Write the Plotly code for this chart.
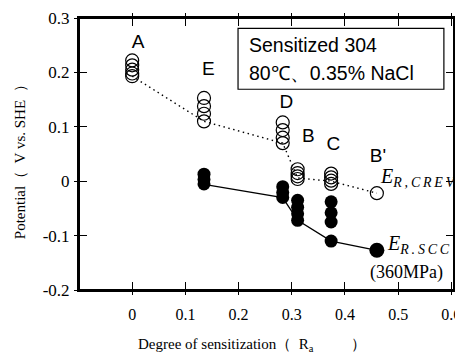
import plotly.graph_objects as go

# Open circles: E_R,CREV  (groups A, E, D, B, C, B')
crev_x = [0.0, 0.0, 0.0, 0.0, 0.0,
          0.135, 0.135, 0.135, 0.135,
          0.283, 0.283, 0.283, 0.283,
          0.311, 0.311, 0.311, 0.311,
          0.374, 0.374, 0.374, 0.374,
          0.46]
crev_y = [0.222, 0.213, 0.205, 0.198, 0.193,
          0.153, 0.138, 0.124, 0.110,
          0.108, 0.094, 0.080, 0.070,
          0.022, 0.015, 0.009, 0.004,
          0.014, 0.007, 0.001, -0.005,
          -0.022]
crev_line_x = [0.0, 0.135, 0.283, 0.311, 0.374, 0.46]
crev_line_y = [0.193, 0.110, 0.070, 0.006, 0.0, -0.022]

# Filled circles: E_R,SCC
scc_x = [0.135, 0.135, 0.135,
         0.283, 0.283, 0.283,
         0.311, 0.311, 0.311, 0.311,
         0.374, 0.374, 0.374, 0.374]
scc_y = [0.013, 0.003, -0.005,
         -0.010, -0.021, -0.030,
         -0.035, -0.048, -0.060, -0.072,
         -0.038, -0.058, -0.075, -0.110]
scc_line_x = [0.135, 0.283, 0.311, 0.374, 0.46]
scc_line_y = [-0.006, -0.030, -0.072, -0.110, -0.127]
scc_end_x = [0.46]
scc_end_y = [-0.127]

group_labels = ["A", "E", "D", "B", "C", "B'"]
group_label_x = [0.011, 0.143, 0.29, 0.331, 0.378, 0.462]
group_label_y = [0.254, 0.204, 0.143, 0.081, 0.066, 0.044]

x_range = [-0.1, 0.605]
y_range = [-0.2, 0.3]
x_ticks = [0, 0.1, 0.2, 0.3, 0.4, 0.5, 0.6]
x_ticktext = ["0", "0.1", "0.2", "0.3", "0.4", "0.5", "0.6"]
y_ticks = [0.3, 0.2, 0.1, 0, -0.1, -0.2]
y_ticktext = ["0.3", "0.2", "0.1", "0", "-0.1", "-0.2"]

serif = "Liberation Serif, Times New Roman, serif"
sans = "Liberation Sans, Arial, sans-serif"
ts = "\u2009"
nb = "\u00a0"

fig = go.Figure()
fig.add_trace(go.Scatter(x=crev_line_x, y=crev_line_y, mode="lines",
                         line=dict(color="black", width=1.4, dash="1.5px,3.5px"),
                         hoverinfo="skip", showlegend=False))
fig.add_trace(go.Scatter(x=scc_line_x, y=scc_line_y, mode="lines",
                         line=dict(color="black", width=1.3),
                         hoverinfo="skip", showlegend=False))
fig.add_trace(go.Scatter(x=crev_x, y=crev_y, mode="markers",
                         marker=dict(symbol="circle-open", size=13,
                                     color="black", line=dict(width=1.2)),
                         showlegend=False))
fig.add_trace(go.Scatter(x=scc_x, y=scc_y, mode="markers",
                         marker=dict(symbol="circle", size=13, color="black"),
                         showlegend=False))
fig.add_trace(go.Scatter(x=scc_end_x, y=scc_end_y, mode="markers",
                         marker=dict(symbol="circle", size=15, color="black"),
                         showlegend=False))
fig.add_trace(go.Scatter(x=group_label_x, y=group_label_y, mode="text",
                         text=group_labels,
                         textfont=dict(family=sans, size=19, color="black"),
                         showlegend=False))
# invisible trace on the overlay axes (outer tick halves)
fig.add_trace(go.Scatter(x=[x_range[0]], y=[y_range[0]], xaxis="x2", yaxis="y2",
                         mode="markers", marker=dict(opacity=0),
                         hoverinfo="skip", showlegend=False))

annotations = [
    dict(x=0.463, y=0.006, xref="x", yref="y", xanchor="left", yanchor="middle",
         text="<i>E</i><sub><i>" + ts.join("R,CREV") + "</i></sub>",
         showarrow=False, font=dict(family=serif, size=20, color="black")),
    dict(x=0.476, y=-0.116, xref="x", yref="y", xanchor="left", yanchor="middle",
         text="<i>E</i><sub><i>" + ts.join("R.SCC") + "</i></sub>",
         showarrow=False, font=dict(family=serif, size=20, color="black")),
    dict(x=0.515, y=-0.167, xref="x", yref="y", xanchor="center", yanchor="middle",
         text="(360MPa)", showarrow=False,
         font=dict(family=serif, size=18, color="black")),
    dict(x=0.216, y=0.251, xref="x", yref="y", xanchor="left", yanchor="middle",
         text="Sensitized 304", showarrow=False,
         font=dict(family=sans, size=19.5, color="black")),
    dict(x=0.216, y=0.198, xref="x", yref="y", xanchor="left", yanchor="middle",
         text="80℃、0.35% NaCl", showarrow=False,
         font=dict(family=sans, size=19.5, color="black")),
    dict(x=-0.157, y=0.485, xref="paper", yref="paper", xanchor="center",
         yanchor="middle",
         text="Potential（" + nb * 2 + "V vs. SHE" + nb * 2 + "）",
         showarrow=False, textangle=-90,
         font=dict(family=serif, size=15, color="black")),
    dict(x=0.461, y=-0.202, xref="paper", yref="paper", xanchor="center",
         yanchor="middle",
         text="Degree of sensitization（" + nb * 2 + "R<sub>a</sub>" + nb * 10 + "）",
         showarrow=False, font=dict(family=serif, size=15, color="black")),
]

fig.update_layout(
    width=455, height=347,
    margin=dict(l=71, r=9, t=10, b=65),
    paper_bgcolor="white", plot_bgcolor="white",
    annotations=annotations,
    shapes=[
        dict(type="rect", xref="x", yref="y", x0=0.199, x1=0.586,
             y0=0.169, y1=0.281, line=dict(color="black", width=1.2)),
        dict(type="rect", xref="paper", yref="paper", x0=0, x1=1, y0=0, y1=1,
             line=dict(color="black", width=2), layer="above"),
    ],
    xaxis=dict(range=x_range, tickvals=x_ticks, ticktext=x_ticktext,
               ticks="inside", ticklen=8, tickwidth=1.2, tickcolor="black",
               showline=True, linecolor="black", linewidth=2, mirror="ticks",
               showgrid=False, zeroline=False, automargin=False,
               ticklabelstandoff=9, ticklabeloverflow="allow",
               tickfont=dict(family=serif, size=16, color="black")),
    yaxis=dict(range=y_range, tickvals=y_ticks, ticktext=y_ticktext,
               ticks="inside", ticklen=8, tickwidth=1.2, tickcolor="black",
               showline=True, linecolor="black", linewidth=2, mirror="ticks",
               showgrid=False, zeroline=False, automargin=False,
               ticklabelstandoff=4,
               tickfont=dict(family=serif, size=17, color="black")),
    xaxis2=dict(range=x_range, tickvals=x_ticks, overlaying="x", anchor="y2",
                ticks="outside", ticklen=4, tickwidth=1.2, tickcolor="black",
                showticklabels=False, showline=False, mirror="ticks",
                showgrid=False, zeroline=False, automargin=False),
    yaxis2=dict(range=y_range, tickvals=y_ticks, overlaying="y", anchor="x2",
                ticks="outside", ticklen=4, tickwidth=1.2, tickcolor="black",
                showticklabels=False, showline=False, mirror="ticks",
                showgrid=False, zeroline=False, automargin=False),
)

fig.write_html("out.html")
